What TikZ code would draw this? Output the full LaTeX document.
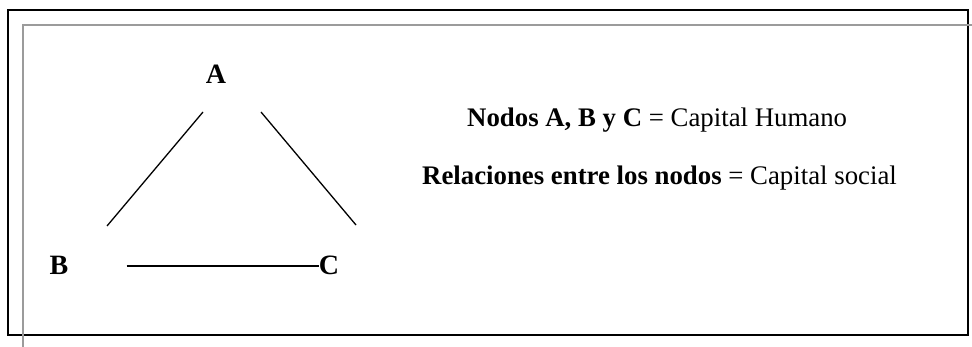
\documentclass[tikz,border=0pt]{standalone}
\usepackage{fontspec}
\setmainfont{Liberation Serif}
\definecolor{framegray}{RGB}{155,155,155}
\begin{document}
\begin{tikzpicture}[x=1pt,y=-1pt,
  lbl/.style={font=\fontsize{28}{32}\selectfont\bfseries, inner sep=0pt, anchor=base},
  txt/.style={font=\fontsize{26.8}{31}\selectfont, inner sep=0pt, anchor=base west},
  link/.style={line width=1.3pt, line cap=butt}]
\useasboundingbox (0,0) rectangle (972,347);
\draw[line width=1.6pt] (8,10) rectangle (968,335);
\draw[line width=1.5pt, framegray] (972,25) -- (23,25) -- (23,347);
\node[lbl] (A) at (216,84) {A};
\node[lbl] (B) at (59,275) {B};
\node[lbl] (C) at (329,275) {C};
\coordinate (ab1) at (203,112);
\coordinate (ab2) at (107,226);
\coordinate (ac1) at (261,112);
\coordinate (ac2) at (356,225);
\path (C.west) ++(-192,0) coordinate (bc1);
\draw[link] (ab1) -- (ab2);
\draw[link] (ac1) -- (ac2);
\draw[link] (bc1) -- (C.west);
\node[txt] (t1) at (467,127) {\textbf{Nodos A, B y C} = Capital Humano};
\node[txt] (t2) at (422,185) {\textbf{Relaciones entre los nodos} = Capital social};
\end{tikzpicture}
\end{document}
